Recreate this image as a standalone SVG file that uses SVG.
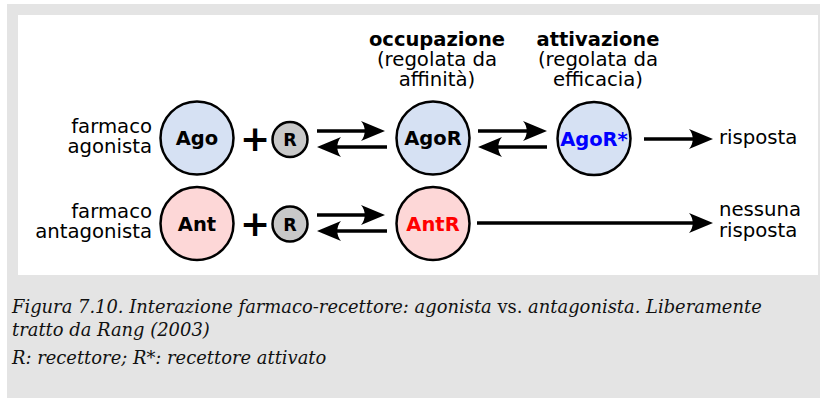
<svg xmlns="http://www.w3.org/2000/svg" width="820" height="398" viewBox="0 0 820 398">
<style>
.lbl{font-family:"DejaVu Sans",sans-serif;font-size:19.7px;fill:#000}
.hd{font-family:"DejaVu Sans",sans-serif;font-size:19.5px;font-weight:bold;fill:#000}
.nt{font-family:"DejaVu Sans",sans-serif;font-size:19.5px;font-weight:bold;text-anchor:middle}
.rt{font-family:"DejaVu Sans",sans-serif;font-size:17.5px;font-weight:bold;text-anchor:middle}
.blue{fill:#d6e1f3;stroke:#000;stroke-width:2.5}
.pink{fill:#fdd7d7;stroke:#000;stroke-width:2.5}
.gray{fill:#c8c8c8;stroke:#000;stroke-width:2.5}
.arr{stroke:#000;stroke-width:3.6;fill:none;marker-end:url(#ah)}
.plus{font-family:"DejaVu Sans",sans-serif;font-size:36px;font-weight:bold;text-anchor:middle}
.cap{font-family:"DejaVu Serif",serif;font-size:17.9px;font-style:italic;fill:#111}
</style>
<defs>
<marker id="ah" markerUnits="userSpaceOnUse" viewBox="-14 -12 28 24" markerWidth="28" markerHeight="24" refX="0" refY="0" orient="auto" overflow="visible">
<path d="M12,0 L-12,-10 C-7,-4 -7,4 -12,10 Z" fill="#000"/>
</marker>
</defs>
<rect x="7" y="4" width="813" height="394" fill="#e4e4e4"/>
<rect x="18" y="15" width="800" height="260" fill="#fff"/>

<g id="labels-top">
<text class="hd" x="437" y="46" text-anchor="middle">occupazione</text>
<text class="lbl" x="437" y="66" text-anchor="middle">(regolata da</text>
<text class="lbl" x="437" y="86" text-anchor="middle">affinità)</text>
<text class="hd" x="598" y="46" text-anchor="middle">attivazione</text>
<text class="lbl" x="598" y="66" text-anchor="middle">(regolata da</text>
<text class="lbl" x="598" y="86" text-anchor="middle">efficacia)</text>
</g>

<g id="label-agonista">
<text class="lbl" x="152" y="133" text-anchor="end">farmaco</text>
<text class="lbl" x="152" y="153" text-anchor="end">agonista</text>
</g>
<g id="label-antagonista">
<text class="lbl" x="152" y="218" text-anchor="end">farmaco</text>
<text class="lbl" x="152" y="238" text-anchor="end">antagonista</text>
</g>

<g id="ago"><circle class="blue" cx="197" cy="138" r="36.5"/><text class="nt" x="197" y="145">Ago</text></g>
<g id="plus1"><text class="plus" x="255" y="151">+</text></g>
<g id="r1"><circle class="gray" cx="290" cy="139.5" r="17.5"/><text class="rt" x="290" y="146">R</text></g>
<g id="agor"><circle class="blue" cx="433" cy="138" r="36.5"/><text class="nt" x="433" y="145">AgoR</text></g>
<g id="agorstar"><circle class="blue" cx="594" cy="138.5" r="36.5"/><text class="nt" x="594" y="145.5" fill="#0000ff">AgoR*</text></g>
<g id="risposta"><text class="lbl" x="719" y="144">risposta</text></g>

<g id="ant"><circle class="pink" cx="197" cy="223.5" r="36.5"/><text class="nt" x="197" y="230.5">Ant</text></g>
<g id="plus2"><text class="plus" x="255" y="236">+</text></g>
<g id="r2"><circle class="gray" cx="290" cy="224" r="17.5"/><text class="rt" x="290" y="230.5">R</text></g>
<g id="antr"><circle class="pink" cx="433" cy="223.5" r="36.5"/><text class="nt" x="433" y="230.5" fill="#ff0000">AntR</text></g>
<g id="nessuna"><text class="lbl" x="719" y="216">nessuna</text><text class="lbl" x="719" y="237">risposta</text></g>

<g id="connectors">
<line class="arr" x1="317" y1="131" x2="373" y2="131"/>
<line class="arr" x1="387" y1="147" x2="329" y2="147"/>
<line class="arr" x1="478" y1="131" x2="535" y2="131"/>
<line class="arr" x1="547" y1="147" x2="490" y2="147"/>
<line class="arr" x1="644" y1="139" x2="701" y2="139"/>
<line class="arr" x1="317" y1="215" x2="373" y2="215"/>
<line class="arr" x1="387" y1="231" x2="329" y2="231"/>
<line class="arr" x1="477" y1="223" x2="701" y2="223"/>
</g>

<g id="caption">
<text class="cap" x="12" y="313">Figura 7.10. Interazione farmaco-recettore: agonista <tspan font-style="normal">vs.</tspan> antagonista. Liberamente</text>
<text class="cap" x="12" y="336">tratto da Rang (2003)</text>
<text class="cap" x="12" y="364">R: recettore; R*: recettore attivato</text>
</g>
</svg>
